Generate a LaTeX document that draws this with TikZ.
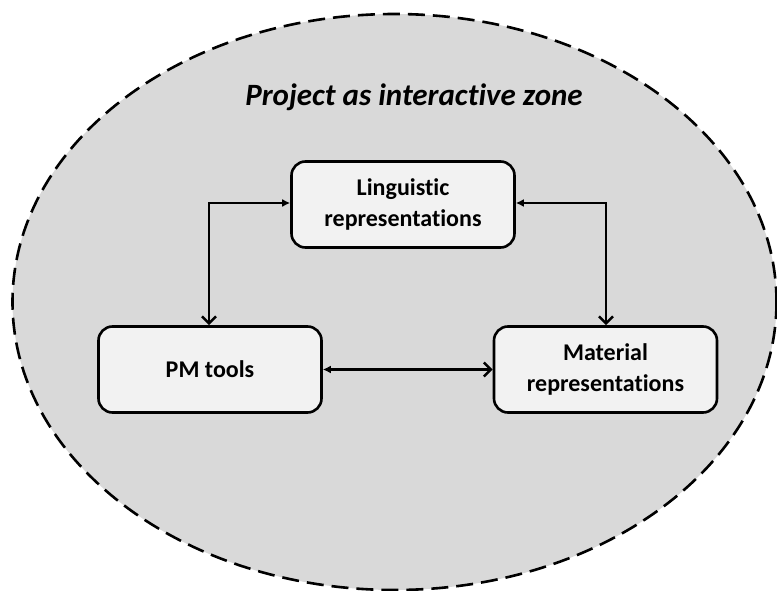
\documentclass[tikz,border=0pt]{standalone}
\usepackage{fontspec}
\setmainfont[Ligatures=NoCommon]{Carlito}
\usetikzlibrary{arrows.meta}
\definecolor{zonefill}{HTML}{D9D9D9}
\definecolor{boxfill}{HTML}{F2F2F2}
\tikzset{
  zone/.style={draw=black, fill=zonefill, line width=2.6pt, dash pattern=on 17pt off 8pt},
  card/.style={draw=black, fill=boxfill, line width=2.6pt, rounded corners=14pt,
    minimum width=223pt, minimum height=86pt, align=center,
    font=\fontsize{24}{31}\selectfont\bfseries, inner sep=0pt},
  link/.style={line width=2.6pt, {Latex[length=8pt,width=8pt]}-{Straight Barb[length=7pt,width=14pt,line width=2.6pt]}},
}
\begin{document}
\begin{tikzpicture}[x=1pt,y=-1pt]
\useasboundingbox (0,0) rectangle (777,591);
\draw[zone] (394.5,302) ellipse[x radius=382, y radius=288];
\node[font=\fontsize{31}{35}\selectfont\bfseries\itshape] (title) at (414,97) {Project as interactive zone};
\node[card] (ling) at (403,204.5) {Linguistic\\representations};
\node[card] (pm) at (210,369.5) {PM tools};
\node[card] (mat) at (605.5,369.5) {Material\\representations};
\coordinate (lc) at (209,203);
\coordinate (rc) at (606,203);
\draw[link] (ling.west |- lc) -- (lc) -- (pm.north -| lc);
\draw[link] (ling.east |- rc) -- (rc) -- (mat.north -| rc);
\draw[link] (pm.east) -- (mat.west);
\end{tikzpicture}
\end{document}
